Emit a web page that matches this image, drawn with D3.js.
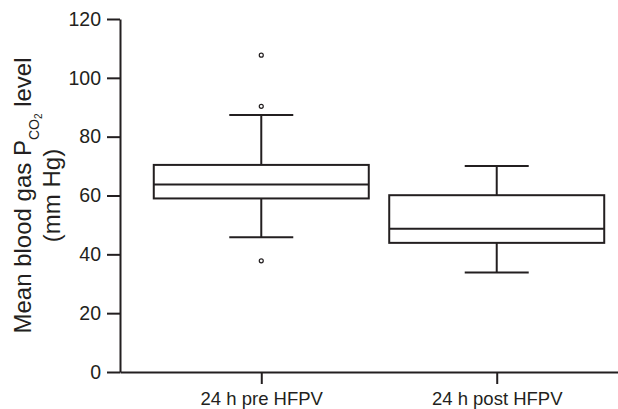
<!DOCTYPE html>
<html>
<head>
<meta charset="utf-8">
<script src="https://cdn.jsdelivr.net/npm/d3@7"></script>
<style>
  body { margin: 0; background: #fff; }
  svg text { font-family: "Liberation Sans", Arial, Helvetica, sans-serif; fill: #231f20; }
</style>
</head>
<body>
<div id="chart"></div>
<script>
// values (mm Hg)
const categories = ["24 h pre HFPV", "24 h post HFPV"];
const whiskerLow = [45.8, 33.8];
const q1 = [59.0, 43.9];
const median = [63.7, 48.7];
const q3 = [70.4, 60.1];
const whiskerHigh = [87.4, 70.0];
const outliers = [[107.7, 90.3, 37.8], []];
const yTicks = [0, 20, 40, 60, 80, 100, 120];

const width = 618, height = 409;
const margin = {left: 120, top: 19, bottom: 37};
const ink = "#231f20";

let svg = d3.select("#chart")
    .append("svg")
    .attr("width", width)
    .attr("height", height);

let x = d3.scalePoint()
    .domain(categories)
    .range([margin.left, width + 20])
    .padding(0.6);

let y = d3.scaleLinear()
    .domain([0, 120])
    .range([height - margin.bottom, margin.top]);

let boxW = 215, capW = 64;

// x axis
let xAxis = svg.append("g")
    .attr("transform", `translate(0,${y(0)})`)
    .call(d3.axisBottom(x).tickSize(12).tickSizeOuter(0).tickPadding(8));
xAxis.selectAll("text").style("font-size", "18.5px");

// y axis
let yAxis = svg.append("g")
    .attr("transform", `translate(${margin.left},0)`)
    .call(d3.axisLeft(y).tickValues(yTicks).tickSize(13).tickSizeOuter(0).tickPadding(6));
yAxis.selectAll("text").style("font-size", "19.5px");

svg.selectAll(".domain, .tick line")
    .attr("stroke", ink)
    .attr("stroke-width", 2);

// box plot rows
let data = categories.map((c, i) => ({
    cat: c, lo: whiskerLow[i], q1: q1[i], med: median[i], q3: q3[i], hi: whiskerHigh[i], out: outliers[i]
}));

let boxes = svg.append("g")
    .attr("stroke", ink)
    .attr("stroke-width", 2)
    .attr("fill", "none");

let g = boxes.selectAll("g.box").data(data).enter().append("g").attr("class", "box");

// whiskers
g.append("line")
    .attr("x1", d => x(d.cat)).attr("x2", d => x(d.cat))
    .attr("y1", d => y(d.hi)).attr("y2", d => y(d.q3));
g.append("line")
    .attr("x1", d => x(d.cat)).attr("x2", d => x(d.cat))
    .attr("y1", d => y(d.q1)).attr("y2", d => y(d.lo));
// caps
g.append("line")
    .attr("x1", d => x(d.cat) - capW / 2).attr("x2", d => x(d.cat) + capW / 2)
    .attr("y1", d => y(d.hi)).attr("y2", d => y(d.hi));
g.append("line")
    .attr("x1", d => x(d.cat) - capW / 2).attr("x2", d => x(d.cat) + capW / 2)
    .attr("y1", d => y(d.lo)).attr("y2", d => y(d.lo));
// box
g.append("rect")
    .attr("x", d => x(d.cat) - boxW / 2)
    .attr("width", boxW)
    .attr("y", d => y(d.q3))
    .attr("height", d => y(d.q1) - y(d.q3));
// median
g.append("line")
    .attr("x1", d => x(d.cat) - boxW / 2).attr("x2", d => x(d.cat) + boxW / 2)
    .attr("y1", d => y(d.med)).attr("y2", d => y(d.med));
// outliers
g.selectAll("circle")
    .data(d => d.out.map(v => ({cat: d.cat, v: v})))
    .enter().append("circle")
    .attr("cx", d => x(d.cat))
    .attr("cy", d => y(d.v))
    .attr("r", 2)
    .attr("stroke-width", 1.2)
    .attr("fill", "#fff");

// y label, two lines, with subscript CO2
let cy = (y(0) + y(120)) / 2;
let lab = svg.append("text")
    .attr("transform", `translate(31,${cy}) rotate(-90)`)
    .style("text-anchor", "middle")
    .style("font-size", "24px");
lab.append("tspan").text("Mean blood gas P");
lab.append("tspan").text("CO").attr("dy", 8).style("font-size", "14px");
lab.append("tspan").text("2").attr("dy", 3).style("font-size", "10px");
lab.append("tspan").text(" level").attr("dy", -11);

svg.append("text")
    .attr("transform", `translate(60,${cy}) rotate(-90)`)
    .style("text-anchor", "middle")
    .style("font-size", "24px")
    .text("(mm Hg)");
</script>
</body>
</html>
